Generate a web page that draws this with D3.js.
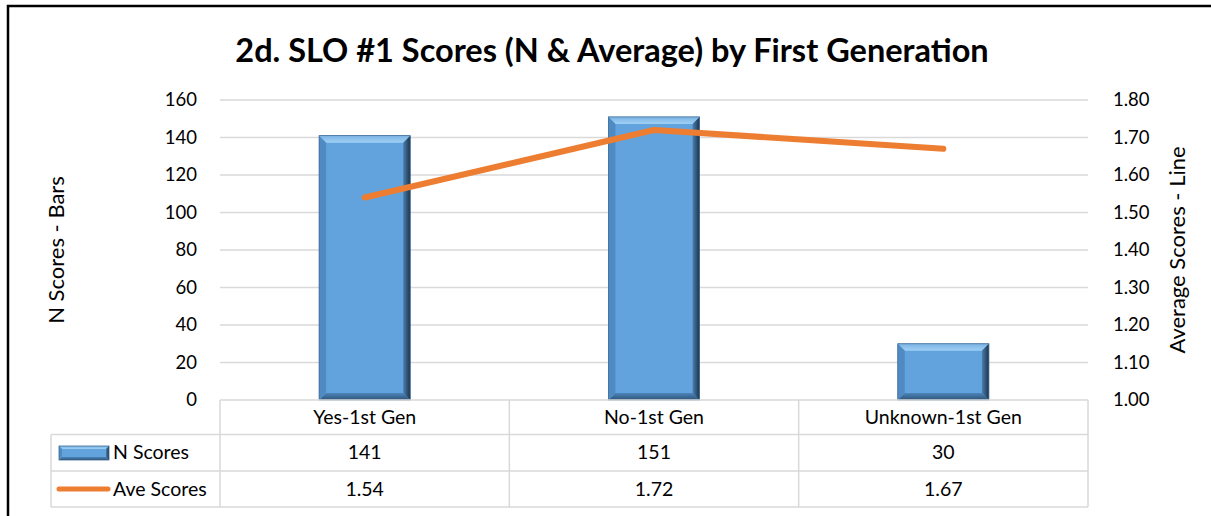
<!DOCTYPE html>
<html>
<head>
<meta charset="utf-8">
<script src="https://cdn.jsdelivr.net/npm/d3@7"></script>
<style>
  body { margin: 0; background: #fff; }
  text { font-family: Lato, "Open Sans", sans-serif; fill: #000; }
</style>
</head>
<body>
<div id="chart"></div>
<script>
// chart data
var categories = ["Yes-1st Gen", "No-1st Gen", "Unknown-1st Gen"];
var nScores = [141, 151, 30];
var aveScores = [1.54, 1.72, 1.67];
var aveLabels = ["1.54", "1.72", "1.67"];
var leftTicks = [0, 20, 40, 60, 80, 100, 120, 140, 160];
var rightTicks = [1.0, 1.1, 1.2, 1.3, 1.4, 1.5, 1.6, 1.7, 1.8];

var width = 1211, height = 516;
var plot = { left: 220, right: 1088, top: 100, bottom: 400 };

var svg = d3.select("#chart").append("svg")
    .attr("width", width)
    .attr("height", height);

// outer frame
svg.append("rect")
    .attr("x", 8).attr("y", 6)
    .attr("width", 1240).attr("height", 540)
    .style("fill", "none")
    .style("stroke", "#000")
    .style("stroke-width", 2.5);

svg.append("text")
    .attr("x", 612).attr("y", 62)
    .attr("text-anchor", "middle")
    .style("font-size", "32.5px")
    .style("font-weight", "bold")
    .text("2d. SLO #1 Scores (N & Average) by First Generation");

var x = d3.scaleBand()
    .domain(categories)
    .range([plot.left, plot.right]);

var yLeft = d3.scaleLinear().domain([0, 160]).range([plot.bottom, plot.top]);
var yRight = d3.scaleLinear().domain([1.0, 1.8]).range([plot.bottom, plot.top]);

// gridlines
svg.append("g")
    .selectAll("line")
    .data(leftTicks.slice(1))
    .enter().append("line")
    .attr("x1", plot.left).attr("x2", plot.right)
    .attr("y1", function (d) { return yLeft(d); })
    .attr("y2", function (d) { return yLeft(d); })
    .style("stroke", "#d9d9d9")
    .style("stroke-width", 1.3);

// left axis
var leftAxis = svg.append("g")
    .attr("transform", "translate(" + (plot.left - 23) + ",0)")
    .call(d3.axisLeft(yLeft).tickValues(leftTicks).tickSize(0).tickPadding(0));
leftAxis.select(".domain").remove();
leftAxis.selectAll("text").style("font-size", "18.5px").style("font-family", "Lato, sans-serif");

// right axis
var rightAxis = svg.append("g")
    .attr("transform", "translate(" + (plot.right + 25) + ",0)")
    .call(d3.axisRight(yRight).tickValues(rightTicks).tickFormat(d3.format(".2f")).tickSize(0).tickPadding(0));
rightAxis.select(".domain").remove();
rightAxis.selectAll("text").style("font-size", "18.5px").style("font-family", "Lato, sans-serif");

svg.append("text")
    .attr("transform", "translate(64,250) rotate(-90)")
    .attr("text-anchor", "middle")
    .style("font-size", "22px")
    .text("N Scores - Bars");

svg.append("text")
    .attr("transform", "translate(1185,250) rotate(-90)")
    .attr("text-anchor", "middle")
    .style("font-size", "22px")
    .text("Average Scores - Line");

// bevelled bar
var defs = svg.append("defs");
var rightGrad = defs.append("linearGradient").attr("id", "rightBevel")
    .attr("x1", "0").attr("x2", "1").attr("y1", "0").attr("y2", "0");
rightGrad.append("stop").attr("offset", "0").attr("stop-color", "#4a7fb0");
rightGrad.append("stop").attr("offset", "1").attr("stop-color", "#1d3348");
var topGrad = defs.append("linearGradient").attr("id", "topBevel")
    .attr("x1", "0").attr("x2", "0").attr("y1", "0").attr("y2", "1");
topGrad.append("stop").attr("offset", "0").attr("stop-color", "#7ab4e4");
topGrad.append("stop").attr("offset", "1").attr("stop-color", "#9fd0f4");
var botGrad = defs.append("linearGradient").attr("id", "botBevel")
    .attr("x1", "0").attr("x2", "0").attr("y1", "0").attr("y2", "1");
botGrad.append("stop").attr("offset", "0").attr("stop-color", "#4c85ba");
botGrad.append("stop").attr("offset", "1").attr("stop-color", "#2e5478");

function drawBar(g, x0, y0, w, h, b) {
    var x1 = x0 + w, y1 = y0 + h;
    g.append("rect").attr("x", x0).attr("y", y0).attr("width", w).attr("height", h)
        .style("fill", "#62a3de");
    g.append("polygon")
        .attr("points", [[x0, y0], [x1, y0], [x1 - b, y0 + b], [x0 + b, y0 + b]].join(" "))
        .style("fill", "url(#topBevel)");
    g.append("polygon")
        .attr("points", [[x0, y1], [x1, y1], [x1 - b, y1 - b], [x0 + b, y1 - b]].join(" "))
        .style("fill", "url(#botBevel)");
    g.append("polygon")
        .attr("points", [[x0, y0], [x0 + b, y0 + b], [x0 + b, y1 - b], [x0, y1]].join(" "))
        .style("fill", "#4f8bc2");
    g.append("polygon")
        .attr("points", [[x1, y0], [x1 - b, y0 + b], [x1 - b, y1 - b], [x1, y1]].join(" "))
        .style("fill", "url(#rightBevel)");
    g.append("rect").attr("x", x0).attr("y", y0).attr("width", w).attr("height", h)
        .style("fill", "none").style("stroke", "#3c6a96").style("stroke-width", 0.8);
}

var barW = x.bandwidth() * 0.315;
var bars = svg.append("g");
categories.forEach(function (c, i) {
    var bx = x(c) + x.bandwidth() / 2 - barW / 2;
    var by = yLeft(nScores[i]);
    drawBar(bars.append("g"), bx, by, barW, plot.bottom - by, 7);
});

// line
var line = d3.line()
    .x(function (d, i) { return x(categories[i]) + x.bandwidth() / 2; })
    .y(function (d) { return yRight(d); });

svg.append("path")
    .datum(aveScores)
    .attr("d", line)
    .style("fill", "none")
    .style("stroke", "#ed7d31")
    .style("stroke-width", 6)
    .style("stroke-linecap", "round")
    .style("stroke-linejoin", "round");

// data table
var rows = [400, 434.5, 471, 507];
var tableLeft = 51;
var tbl = svg.append("g").style("stroke", "#d9d9d9").style("stroke-width", 1.5);
// header row (category labels)
tbl.append("line").attr("x1", plot.left).attr("x2", plot.right).attr("y1", rows[0]).attr("y2", rows[0]);
tbl.append("line").attr("x1", tableLeft).attr("x2", plot.right).attr("y1", rows[1]).attr("y2", rows[1]);
tbl.append("line").attr("x1", tableLeft).attr("x2", plot.right).attr("y1", rows[2]).attr("y2", rows[2]);
tbl.append("line").attr("x1", tableLeft).attr("x2", plot.right).attr("y1", rows[3]).attr("y2", rows[3]);
tbl.append("line").attr("x1", tableLeft).attr("x2", tableLeft).attr("y1", rows[1]).attr("y2", rows[3]);
var colEdges = [plot.left].concat(categories.map(function (c) { return x(c) + x.bandwidth(); }));
colEdges.forEach(function (cx) {
    tbl.append("line").attr("x1", cx).attr("x2", cx).attr("y1", rows[0]).attr("y2", rows[3]);
});

var cellText = svg.append("g").style("font-size", "19.5px");
categories.forEach(function (c, i) {
    var cx = x(c) + x.bandwidth() / 2;
    cellText.append("text").attr("x", cx).attr("y", 424).attr("text-anchor", "middle").text(c);
    cellText.append("text").attr("x", cx).attr("y", 459).attr("text-anchor", "middle").text(nScores[i]);
    cellText.append("text").attr("x", cx).attr("y", 496).attr("text-anchor", "middle").text(aveLabels[i]);
});

// legend keys in table
drawBar(svg.append("g"), 59, 446, 50, 14, 3);
svg.append("line")
    .attr("x1", 59).attr("x2", 108).attr("y1", 489).attr("y2", 489)
    .style("stroke", "#ed7d31").style("stroke-width", 5).style("stroke-linecap", "round");
cellText.append("text").attr("x", 113).attr("y", 459).text("N Scores");
cellText.append("text").attr("x", 113).attr("y", 496).text("Ave Scores");
</script>
</body>
</html>
